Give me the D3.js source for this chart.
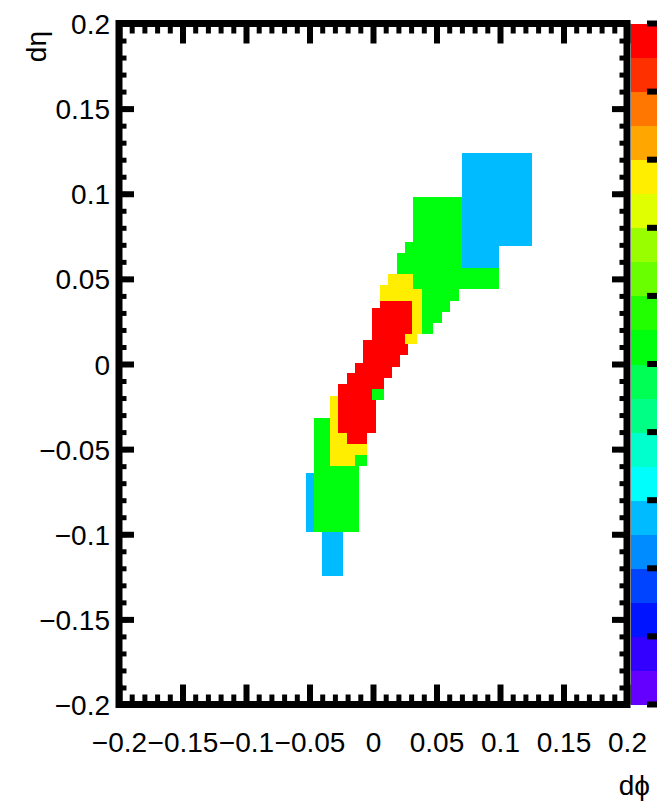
<!DOCTYPE html>
<html>
<head>
<meta charset="utf-8">
<script src="https://cdn.jsdelivr.net/npm/d3@7"></script>
<style>
  html, body { margin: 0; padding: 0; background: #fff; }
  svg { display: block; font-family: "Liberation Sans", Arial, Helvetica, sans-serif; }
</style>
</head>
<body>
<div id="chart"></div>
<script>
// cells as [dphiLo, dphiHi, detaLo, detaHi], one array per bin content
const layer1Cells = [
    [0.0703, 0.0994, 0.0566, 0.1238],
    [0.0994, 0.1254, 0.0693, 0.1238],
    [-0.0530, -0.0465, -0.0985, -0.0638],
    [-0.0399, -0.0239, -0.1245, -0.0985]
];
const layer2Cells = [
    [0.0317, 0.0703, 0.0718, 0.0979],
    [0.0252, 0.0703, 0.0654, 0.0718],
    [0.0187, 0.0703, 0.0566, 0.0654],
    [0.0187, 0.0994, 0.0439, 0.0566],
    [0.0317, 0.0677, 0.0372, 0.0439],
    [0.0317, 0.0606, 0.0305, 0.0372],
    [0.0317, 0.0541, 0.0243, 0.0305],
    [0.0317, 0.0475, 0.0174, 0.0243],
    [-0.0010, 0.0089, -0.0211, -0.0149],
    [-0.0465, -0.0110, -0.0985, -0.0315],
    [-0.0142, -0.0045, -0.0599, -0.0535]
];
const layer3Cells = [
    [0.0120, 0.0317, 0.0464, 0.0527],
    [0.0055, 0.0317, 0.0439, 0.0464],
    [0.0055, 0.0383, 0.0174, 0.0439],
    [0.0252, 0.0344, 0.0116, 0.0174],
    [-0.0339, -0.0045, -0.0535, -0.0186],
    [-0.0339, -0.0142, -0.0599, -0.0535]
];
const layer4Cells = [
    [0.0055, 0.0305, 0.0331, 0.0371],
    [-0.0010, 0.0305, 0.0174, 0.0331],
    [-0.0010, 0.0252, 0.0141, 0.0174],
    [-0.0076, 0.0252, 0.0116, 0.0141],
    [-0.0076, 0.0278, 0.0053, 0.0116],
    [-0.0076, 0.0213, 0.0008, 0.0053],
    [-0.0142, 0.0213, -0.0016, 0.0008],
    [-0.0142, 0.0147, -0.0055, -0.0016],
    [-0.0207, 0.0147, -0.0084, -0.0055],
    [-0.0207, 0.0089, -0.0119, -0.0084],
    [-0.0273, 0.0089, -0.0149, -0.0119],
    [-0.0273, -0.0010, -0.0211, -0.0149],
    [-0.0273, 0.0024, -0.0405, -0.0211],
    [-0.0207, -0.0045, -0.0470, -0.0405]
];
const layerValues = [1, 2, 3, 4];

const xTickValues = [-0.2, -0.15, -0.1, -0.05, 0, 0.05, 0.1, 0.15, 0.2];
const xTickLabels = ["\u22120.2", "\u22120.15", "\u22120.1", "\u22120.05", "0", "0.05", "0.1", "0.15", "0.2"];
const yTickValues = [-0.2, -0.15, -0.1, -0.05, 0, 0.05, 0.1, 0.15, 0.2];
const yTickLabels = ["\u22120.2", "\u22120.15", "\u22120.1", "\u22120.05", "0", "0.05", "0.1", "0.15", "0.2"];
const zTickValues = [0, 0.4, 0.8, 1.2, 1.6, 2, 2.4, 2.8, 3.2, 3.6, 4];

// ROOT "pretty" palette, 20 contours
const paletteColors = [
    "#6300ff", "#3300ff", "#0014ff", "#0044ff", "#008bff",
    "#00bbff", "#00fffc", "#00ffcc", "#00ff85", "#00ff55",
    "#00ff0e", "#22ff00", "#69ff00", "#99ff00", "#e0ff00",
    "#ffee00", "#ffa700", "#ff7700", "#ff3000", "#ff0000"
];

const width = 660, height = 803;
const plotLeft = 119, plotRight = 627, plotTop = 23.5, plotBottom = 704.5;

const svg = d3.select("#chart").append("svg")
    .attr("width", width)
    .attr("height", height);

const x = d3.scaleLinear().domain([-0.2, 0.2]).range([plotLeft, plotRight]);
const y = d3.scaleLinear().domain([-0.2, 0.2]).range([plotBottom, plotTop]);
const z = d3.scaleLinear().domain([0, 4]).range([plotBottom, plotTop]);
const color = d3.scaleQuantize().domain([0, 4]).range(paletteColors);

// cells, lowest content first so higher ones sit on top
const layers = [layer1Cells, layer2Cells, layer3Cells, layer4Cells];
layers.forEach((cells, i) => {
    svg.append("g")
        .attr("shape-rendering", "crispEdges")
        .selectAll("rect")
        .data(cells)
        .join("rect")
        .attr("x", d => x(d[0]))
        .attr("y", d => y(d[3]))
        .attr("width", d => x(d[1]) - x(d[0]))
        .attr("height", d => y(d[2]) - y(d[3]))
        .attr("fill", color(layerValues[i]));
});

// palette
const palX = 631, palW = 26;
svg.append("g")
    .attr("shape-rendering", "crispEdges")
    .selectAll("rect")
    .data(paletteColors)
    .join("rect")
    .attr("x", palX)
    .attr("y", c => z(color.invertExtent(c)[1]))
    .attr("width", palW)
    .attr("height", c => z(color.invertExtent(c)[0]) - z(color.invertExtent(c)[1]) + 0.5)
    .attr("fill", c => c);

svg.append("g")
    .selectAll("line")
    .data(zTickValues)
    .join("line")
    .attr("x1", palX + palW)
    .attr("x2", palX + palW - 10)
    .attr("y1", d => z(d))
    .attr("y2", d => z(d))
    .attr("stroke", "#000")
    .attr("stroke-width", 6);

// axes (ticks point into the frame)
function styleTicks(g, w) {
    g.select(".domain").remove();
    g.selectAll(".tick line").attr("stroke", "#000").attr("stroke-width", w);
}

const xMinor = x.ticks(40);
const yMinor = y.ticks(40);

svg.append("g").attr("transform", `translate(0,${plotBottom})`)
    .call(d3.axisBottom(x).tickValues(xMinor).tickSize(-10).tickFormat(""))
    .call(g => styleTicks(g, 5));
svg.append("g").attr("transform", `translate(0,${plotTop})`)
    .call(d3.axisTop(x).tickValues(xMinor).tickSize(-10).tickFormat(""))
    .call(g => styleTicks(g, 5));
svg.append("g").attr("transform", `translate(${plotLeft},0)`)
    .call(d3.axisLeft(y).tickValues(yMinor).tickSize(-7.5).tickFormat(""))
    .call(g => styleTicks(g, 5));
svg.append("g").attr("transform", `translate(${plotRight},0)`)
    .call(d3.axisRight(y).tickValues(yMinor).tickSize(-7.5).tickFormat(""))
    .call(g => styleTicks(g, 5));

const xAxis = svg.append("g").attr("transform", `translate(0,${plotBottom})`)
    .call(d3.axisBottom(x).tickValues(xTickValues).tickSize(-20)
        .tickFormat((d, i) => xTickLabels[i]))
    .call(g => styleTicks(g, 6));
xAxis.selectAll(".tick text")
    .attr("y", 47.5)
    .attr("dy", null)
    .attr("font-size", 28)
    .attr("font-family", null)
    .attr("fill", "#000");

svg.append("g").attr("transform", `translate(0,${plotTop})`)
    .call(d3.axisTop(x).tickValues(xTickValues).tickSize(-20).tickFormat(""))
    .call(g => styleTicks(g, 6));

const yAxis = svg.append("g").attr("transform", `translate(${plotLeft},0)`)
    .call(d3.axisLeft(y).tickValues(yTickValues).tickSize(-15)
        .tickFormat((d, i) => yTickLabels[i]))
    .call(g => styleTicks(g, 6));
yAxis.selectAll(".tick text")
    .attr("x", -9)
    .attr("dy", "0.36em")
    .attr("font-size", 28)
    .attr("font-family", null)
    .attr("fill", "#000");

svg.append("g").attr("transform", `translate(${plotRight},0)`)
    .call(d3.axisRight(y).tickValues(yTickValues).tickSize(-15).tickFormat(""))
    .call(g => styleTicks(g, 6));

// frame
svg.append("rect")
    .attr("x", plotLeft)
    .attr("y", plotTop)
    .attr("width", plotRight - plotLeft)
    .attr("height", plotBottom - plotTop)
    .attr("fill", "none")
    .attr("stroke", "#000")
    .attr("stroke-width", 7);

// axis titles
svg.append("text")
    .attr("x", 650)
    .attr("y", 795)
    .attr("text-anchor", "end")
    .attr("font-size", 28)
    .text("d\u03d5");

svg.append("text")
    .attr("transform", "translate(46,31) rotate(-90)")
    .attr("text-anchor", "end")
    .attr("font-size", 28)
    .text("d\u03b7");
</script>
</body>
</html>
